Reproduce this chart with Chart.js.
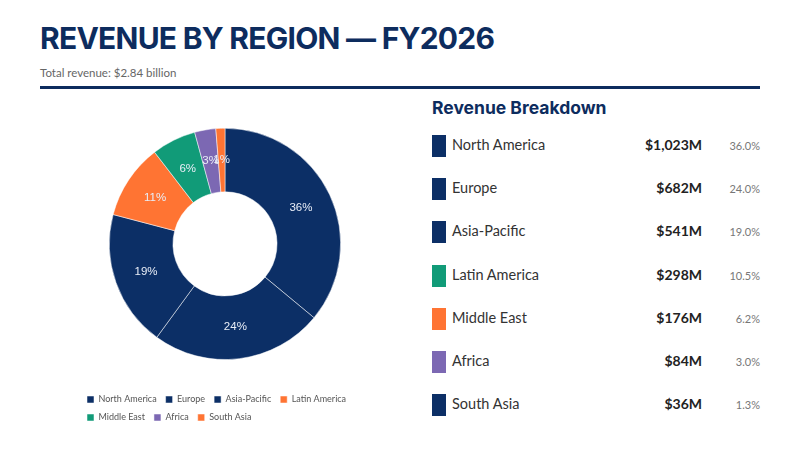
<!DOCTYPE html>
<html>
<head>
<meta charset="utf-8">
<script src="https://cdn.jsdelivr.net/npm/chart.js@4.4.1/dist/chart.umd.min.js"></script>
<style>
  html, body { margin: 0; padding: 0; background: #fff; }
  body { width: 800px; height: 450px; position: relative; overflow: hidden; font-family: Lato, "Open Sans", sans-serif; }
  h1 { position: absolute; left: 40px; top: 20px; margin: 0; font: 700 30px Inter, sans-serif; color: #0d2c5e; letter-spacing: -0.75px; }
  .sub { position: absolute; left: 40px; top: 66px; font-size: 11.5px; color: #666; }
  .rule { position: absolute; left: 40px; top: 86px; width: 720px; height: 3px; background: #0d2c5e; }
  #wrap { position: absolute; left: 78px; top: 118px; width: 294px; height: 314px; }
  #panel { position: absolute; left: 432px; top: 97px; width: 328px; }
  #panel h2 { margin: 0 0 7px 0; font: 700 17.5px Inter, sans-serif; color: #0d2c5e; }
  .row { position: relative; height: 43.2px; }
  .sw { position: absolute; left: 0; top: 10px; width: 14px; height: 22px; }
  .name { position: absolute; left: 20px; top: 11px; font-size: 14.5px; color: #333; }
  .val { position: absolute; right: 58px; top: 11px; font-size: 14px; font-weight: 700; color: #222; }
  .pct { position: absolute; right: 0; top: 14px; font-size: 11px; color: #777; }
</style>
</head>
<body>
<h1>REVENUE BY REGION — FY2026</h1>
<div class="sub">Total revenue: $2.84 billion</div>
<div class="rule"></div>
<div id="wrap"><canvas id="chart"></canvas></div>
<div id="panel"><h2>Revenue Breakdown</h2><div id="rows"></div></div>
<script>
const regions = ["North America", "Europe", "Asia-Pacific", "Latin America", "Middle East", "Africa", "South Asia"];
const revenue = [1023, 682, 541, 298, 176, 84, 36];
const revenueText = ["$1,023M", "$682M", "$541M", "$298M", "$176M", "$84M", "$36M"];
const shareText = ["36.0%", "24.0%", "19.0%", "10.5%", "6.2%", "3.0%", "1.3%"];
const sliceLabels = ["36%", "24%", "19%", "11%", "6%", "3%", "1%"];

const NAVY = "#0c2f66", ORANGE = "#ff7433", TEAL = "#119b78", PURPLE = "#7c68b3";
const sliceColors = [NAVY, NAVY, NAVY, ORANGE, TEAL, PURPLE, ORANGE];
const swatchColors = [NAVY, NAVY, NAVY, TEAL, ORANGE, PURPLE, NAVY];

// right-hand breakdown table
const rows = document.getElementById("rows");
regions.forEach((r, i) => {
    const d = document.createElement("div");
    d.className = "row";
    d.innerHTML = '<div class="sw" style="background:' + swatchColors[i] + '"></div>' +
        '<div class="name">' + r + '</div>' +
        '<div class="val">' + revenueText[i] + '</div>' +
        '<div class="pct">' + shareText[i] + '</div>';
    rows.appendChild(d);
});

// percent labels inside the slices
const sliceText = {
    id: "sliceText",
    afterDatasetsDraw(chart) {
        const ctx = chart.ctx;
        ctx.save();
        ctx.font = "11.5px Arial, 'Liberation Sans', sans-serif";
        ctx.fillStyle = "#e9eef7";
        ctx.textAlign = "center";
        ctx.textBaseline = "middle";
        chart.getDatasetMeta(0).data.forEach((arc, i) => {
            const p = arc.tooltipPosition();
            ctx.fillText(sliceLabels[i], p.x, p.y);
        });
        ctx.restore();
    }
};

new Chart(document.getElementById("chart"), {
    type: "doughnut",
    data: {
        labels: regions,
        datasets: [{
            data: revenue,
            backgroundColor: sliceColors,
            borderColor: "#ffffff",
            borderWidth: 0.5
        }]
    },
    options: {
        responsive: true,
        maintainAspectRatio: false,
        animation: false,
        cutout: "45%",
        layout: { padding: { top: 10, bottom: 0 } },
        plugins: {
            tooltip: { enabled: false },
            legend: {
                position: "bottom",
                align: "start",
                // empty title only adds a gap between the ring and the legend rows
                title: { display: true, text: "", font: { size: 1 }, padding: { top: 0, bottom: 25 } },
                labels: {
                    boxWidth: 7,
                    boxHeight: 7,
                    padding: 9,
                    color: "#555",
                    font: { size: 9, family: "Lato, 'Open Sans', sans-serif" }
                }
            }
        }
    },
    plugins: [sliceText]
});
</script>
</body>
</html>
